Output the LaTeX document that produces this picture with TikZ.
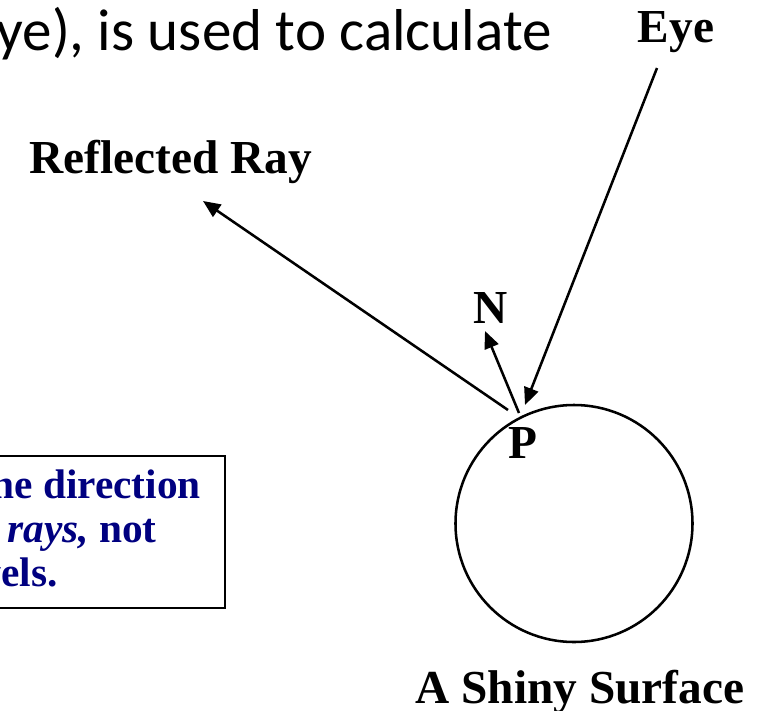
\documentclass[tikz,border=0pt]{standalone}
\usepackage{fontspec}
\setmainfont{Liberation Serif}
\newfontfamily\slidefont{Carlito}
\usepackage{tikz}
\usetikzlibrary{arrows.meta, positioning}
\tikzset{every node/.append style={align=center}}
\usepackage{xcolor}
\definecolor{notecol}{RGB}{0,0,128}
\tikzset{
  lbl/.style={font=\fontsize{35.5}{40}\selectfont\bfseries, inner sep=0pt},
  note/.style={font=\fontsize{31}{35}\selectfont\bfseries, text=notecol, inner sep=0pt},
  ray/.style={line width=1.9pt, -{Triangle[length=13pt, width=11pt]}},
}

\begin{document}
\begin{tikzpicture}[x=0.75pt, y=-0.75pt]
\useasboundingbox (0,0) rectangle (769,711);
\clip (0,0) rectangle (769,711);

% ── Slide text (cut at the left) ─────────────────────────────────────────────
\node[font=\slidefont\fontsize{44.3}{50}\selectfont, inner sep=0pt, anchor=base east]
      (head) at (552,50) {(the eye), is used to calculate};

% ── Note box (cut at the left) ───────────────────────────────────────────────
\draw[line width=2.2pt] (-20,456) rectangle (225,608);
\node[note, anchor=base east] (note1) at (201,498) {the direction};
\node[note, anchor=base east] (note2) at (157,542) {of \textit{rays,} not};
\node[note, anchor=base east] (note3) at (58,586) {levels.};

% ── Surface and labels ───────────────────────────────────────────────────────
\node[draw, circle, line width=1.9pt, minimum size=177.75pt, inner sep=0pt]
      (ball) at (574,523.5) {};
\node[lbl, anchor=base] (eye)  at (676,42)  {Eye};
\node[lbl, anchor=base] (refl) at (171,173) {Reflected Ray};
\node[lbl, anchor=base] (nlbl) at (491,323) {N};
\node[lbl, anchor=base] (plbl) at (523,458) {P};
\node[lbl, anchor=base] (surf) at (580,703) {A Shiny Surface};

% ── Rays at P ────────────────────────────────────────────────────────────────
\coordinate (eyeend) at (657,68);
\coordinate (hit)    at (525,405);
\coordinate (rstart) at (508,410);
\coordinate (rend)   at (203,201);
\coordinate (nbase)  at (519,413);
\coordinate (ntip)   at (485,331);
\draw[ray] (eyeend) -- (hit);
\draw[ray] (rstart) -- (rend);
\draw[ray] (nbase) -- (ntip);

\end{tikzpicture}
\end{document}
